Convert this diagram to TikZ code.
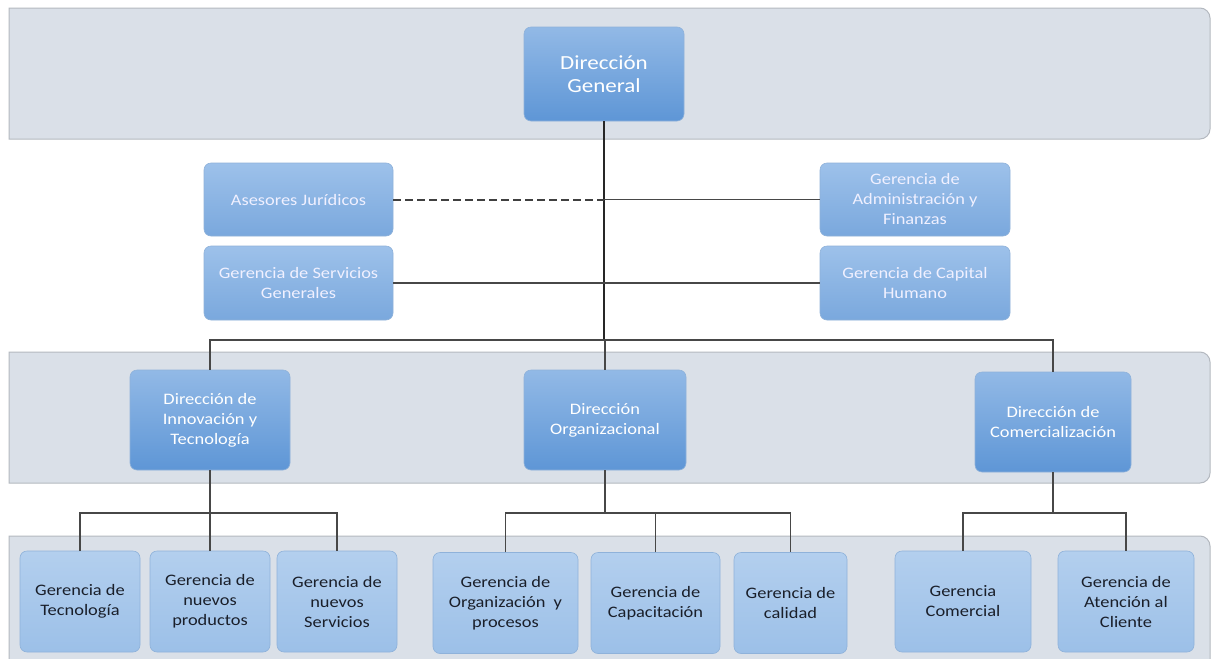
\documentclass[tikz,border=0pt]{standalone}
\usepackage{fontspec}
\setmainfont{Carlito}
\newfontfamily\boxfont[FakeStretch=1.15]{Carlito}
\definecolor{bandfill}{HTML}{DAE0E8}
\definecolor{bandedge}{HTML}{B4B9C0}
\definecolor{hitop}{HTML}{92B9E6}
\definecolor{hibot}{HTML}{5E96D6}
\definecolor{midtop}{HTML}{9DC1EA}
\definecolor{midbot}{HTML}{7AA8DD}
\definecolor{lotop}{HTML}{B3CFEE}
\definecolor{lobot}{HTML}{9CC0E8}
\definecolor{boxedge}{HTML}{8FB2DA}
\definecolor{linec}{HTML}{474747}
\definecolor{darktext}{HTML}{1A1F2A}
\tikzset{
  band/.style={fill=bandfill, draw=bandedge, line width=1pt},
  basebox/.style={rectangle, rounded corners=7pt, draw=boxedge, line width=0.6pt,
    align=center, inner sep=2pt, font=\boxfont\fontsize{16}{20}\selectfont},
  hibox/.style={basebox, top color=hitop, bottom color=hibot, text=white},
  midbox/.style={basebox, top color=midtop, bottom color=midbot, text=white!94!blue},
  lobox/.style={basebox, top color=lotop, bottom color=lobot, text=darktext},
  conn/.style={draw=linec, line width=1.1pt},
  dashconn/.style={draw=black!75, dash pattern=on 8pt off 4pt, line width=2pt},
}
\begin{document}
\begin{tikzpicture}[x=1pt, y=-1pt]
\useasboundingbox (0,0) rectangle (1211,659);
\fill[white] (0,0) rectangle (1211,659);
% bands
\draw[band] (9,8) -- (1200,8) arc[start angle=-90, end angle=0, radius=10] -- (1210,129) arc[start angle=0, end angle=90, radius=10] -- (9,139) -- cycle;
\draw[band] (9,352) -- (1200,352) arc[start angle=-90, end angle=0, radius=10] -- (1210,473) arc[start angle=0, end angle=90, radius=10] -- (9,483) -- cycle;
\draw[band] (9,536) -- (1200,536) arc[start angle=-90, end angle=0, radius=10] -- (1210,670) -- (9,670) -- cycle;
% top
\node[hibox, minimum width=160pt, minimum height=94pt, font=\boxfont\fontsize{20}{23}\selectfont] (dg) at (604,74) {Dirección\\General};
% staff boxes
\node[midbox, minimum width=189pt, minimum height=73pt] (aj) at (298.5,199.5) {Asesores Jurídicos};
\node[midbox, minimum width=189pt, minimum height=74pt] (sg) at (298.5,283) {Gerencia de Servicios\\Generales};
\node[midbox, minimum width=190pt, minimum height=73pt] (af) at (915,199.5) {Gerencia de\\Administración y\\Finanzas};
\node[midbox, minimum width=190pt, minimum height=74pt] (ch) at (915,283) {Gerencia de Capital\\Humano};
% directions
\node[hibox, minimum width=160pt, minimum height=100pt] (dit) at (210,420) {Dirección de\\Innovación y\\Tecnología};
\node[hibox, minimum width=162pt, minimum height=100pt] (dor) at (605,420) {Dirección\\Organizacional};
\node[hibox, minimum width=156pt, minimum height=100pt] (dco) at (1053,422) {Dirección de\\Comercialización};
% bottom row
\node[lobox, minimum width=120pt, minimum height=101pt] (gt) at (80,601.5) {Gerencia de\\Tecnología};
\node[lobox, minimum width=120pt, minimum height=101pt] (gnp) at (210,601.5) {Gerencia de\\nuevos\\productos};
\node[lobox, minimum width=120pt, minimum height=101pt] (gns) at (337,601.5) {Gerencia de\\nuevos\\Servicios};
\node[lobox, minimum width=145pt, minimum height=101pt] (gop) at (505.5,603) {Gerencia de\\Organización\ \ y\\procesos};
\node[lobox, minimum width=129pt, minimum height=101pt] (gca) at (655.5,603) {Gerencia de\\Capacitación};
\node[lobox, minimum width=113pt, minimum height=101pt] (gcal) at (790.5,603) {Gerencia de\\calidad};
\node[lobox, minimum width=136pt, minimum height=101pt] (gcom) at (963,601.5) {Gerencia\\Comercial};
\node[lobox, minimum width=136pt, minimum height=101pt] (gat) at (1126,601.5) {Gerencia de\\Atención al\\Cliente};
% connectors
\coordinate (bus) at (604,340);
\coordinate (b1) at (0,513);
\draw[conn, draw=black!85] (dg.south) -- (dg.south |- bus);
\draw[dashconn] (aj.east) -- (dg.south |- aj.east);
\draw[conn] (dg.south |- af.west) -- (af.west);
\draw[conn] (sg.east) -- (ch.west);
\draw[conn] (dit.north) -- (dit.north |- bus) -- (dco.north |- bus) -- (dco.north);
\draw[conn] (dor.north |- bus) -- (dor.north);
% sub-branches
\draw[conn] (dit.south) -- (dit.south |- b1);
\draw[conn] (gt.north) -- (gt.north |- b1) -- (gns.north |- b1) -- (gns.north);
\draw[conn] (gnp.north) -- (gnp.north |- b1);
\draw[conn] (dor.south) -- (dor.south |- b1);
\draw[conn] (gop.north) -- (gop.north |- b1) -- (gcal.north |- b1) -- (gcal.north);
\draw[conn] (gca.north) -- (gca.north |- b1);
\draw[conn] (dco.south) -- (dco.south |- b1);
\draw[conn] (gcom.north) -- (gcom.north |- b1) -- (gat.north |- b1) -- (gat.north);
\end{tikzpicture}
\end{document}
